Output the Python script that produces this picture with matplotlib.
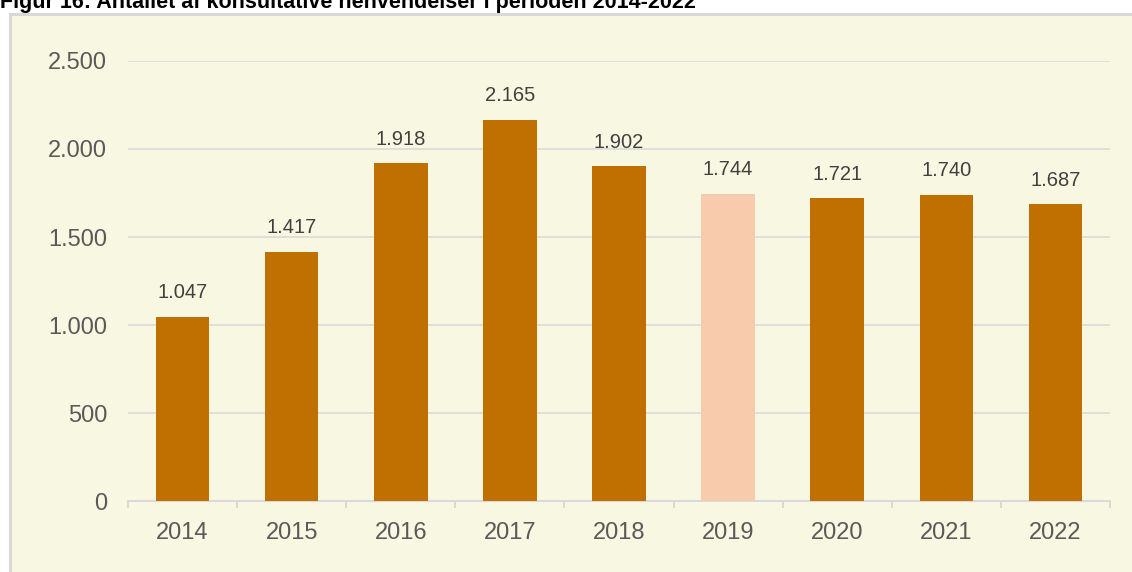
import matplotlib
matplotlib.use("Agg")
import matplotlib.pyplot as plt
from matplotlib.patches import Rectangle
from matplotlib.ticker import FuncFormatter, MultipleLocator

years = ['2014', '2015', '2016', '2017', '2018', '2019', '2020', '2021', '2022']
henvendelser = [1047, 1417, 1918, 2165, 1902, 1744, 1721, 1740, 1687]
highlight_year = '2019'

title = "Figur 16: Antallet af konsultative henvendelser i perioden 2014-2022"

bar_color = '#C07000'
light_color = '#F8CBAD'
panel_color = '#F8F7E1'
grid_color = '#D9D9D9'


def dk_thousands(v, pos=None):
	return f"{int(round(v)):,}".replace(",", ".")


def main():
	plt.rcParams['font.family'] = ['Liberation Sans', 'DejaVu Sans']

	fig = plt.figure(figsize=(11.32, 5.72), dpi=100)
	fig.patch.set_facecolor('white')

	# cream panel with a grey border on the left and top
	W, H = 1132, 572
	panel = Rectangle((9.5 / W, -0.1), 1.2, (H - 13.5) / H + 0.1,
					  transform=fig.transFigure, facecolor=panel_color,
					  edgecolor=grid_color, linewidth=2.2, zorder=0)
	fig.patches.append(panel)

	fig.text(0.0, 1 - 8 / H, title, fontsize=15.5, fontweight='bold',
			 ha='left', va='baseline', color='black')

	ax = fig.add_axes([128 / W, 71 / H, (1110 - 128) / W, (501 - 61) / H])
	ax.set_facecolor('none')
	ax.set_zorder(2)

	x = range(len(years))
	colors = [light_color if y == highlight_year else bar_color for y in years]
	bars = ax.bar(x, henvendelser, width=0.49, color=colors, zorder=3)

	for b, v in zip(bars, henvendelser):
		ax.annotate(dk_thousands(v), (b.get_x() + b.get_width() / 2, v),
					xytext=(0, 10.5), textcoords='offset points',
					ha='center', va='bottom', fontsize=14.5, color='#404040')

	ax.set_ylim(0, 2500)
	ax.set_xlim(-0.5, len(years) - 0.5)
	ax.yaxis.set_major_locator(MultipleLocator(500))
	ax.yaxis.set_major_formatter(FuncFormatter(dk_thousands))
	ax.grid(axis='y', color=grid_color, linewidth=1.2, zorder=0)
	ax.set_axisbelow(True)

	for s in ['top', 'right', 'left']:
		ax.spines[s].set_visible(False)
	ax.spines['bottom'].set_color(grid_color)
	ax.spines['bottom'].set_linewidth(1.4)

	ax.set_xticks(list(x))
	ax.set_xticklabels(years)
	ax.set_xticks([i - 0.5 for i in range(len(years) + 1)], minor=True)
	ax.tick_params(axis='x', which='major', length=0, pad=15, labelsize=17, labelcolor='#595959')
	ax.tick_params(axis='x', which='minor', length=5, width=1.4, color=grid_color)
	ax.tick_params(axis='y', length=0, pad=15, labelsize=17, labelcolor='#595959')

	fig.savefig('out.png', dpi=100, facecolor=fig.get_facecolor())


if __name__ == "__main__":
	main()
